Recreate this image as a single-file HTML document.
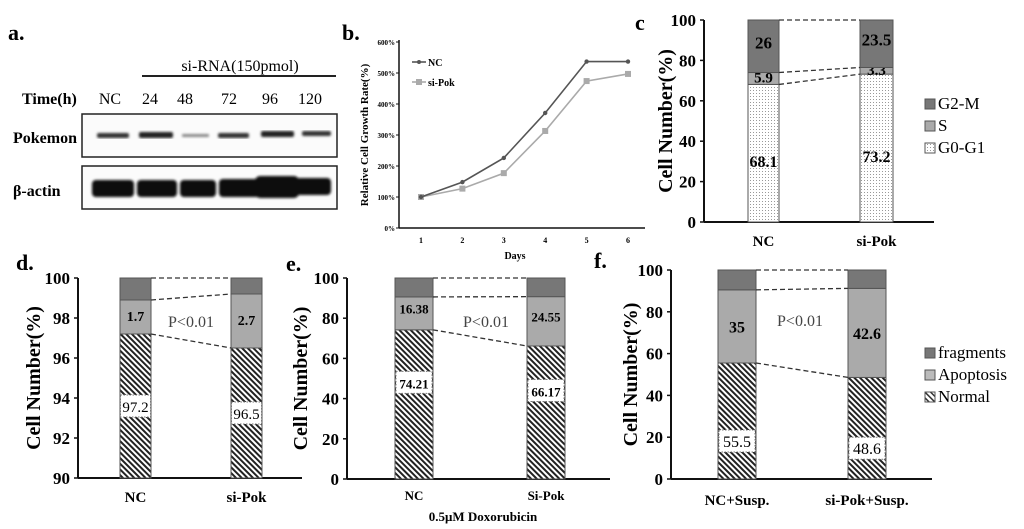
<!DOCTYPE html>
<html><head><meta charset="utf-8">
<style>
html,body{margin:0;padding:0;background:#fff;}
svg{display:block;font-family:"Liberation Serif",serif;}
.b{font-weight:bold;}
</style></head>
<body>
<svg id="fig" width="1024" height="529" viewBox="0 0 1024 529" xmlns="http://www.w3.org/2000/svg">
<defs>
<pattern id="hatch" patternUnits="userSpaceOnUse" width="4" height="4" patternTransform="rotate(-45)">
<rect width="4" height="4" fill="#fff"/><rect x="0" y="0" width="2" height="4" fill="#222"/>
</pattern>
<pattern id="hatchL" patternUnits="userSpaceOnUse" width="4" height="4" patternTransform="rotate(-45)">
<rect width="4" height="4" fill="#fff"/><rect x="0" y="0" width="1.5" height="4" fill="#333"/>
</pattern>
<pattern id="dots" patternUnits="userSpaceOnUse" width="3" height="3">
<rect width="3" height="3" fill="#fff"/><rect x="0" y="0" width="1" height="1" fill="#999"/>
</pattern>
<filter id="blur"><feGaussianBlur stdDeviation="1.2"/></filter>
</defs>

<!-- Panel a -->
<g>
<text x="8" y="40" font-size="22" class="b">a.</text>
<text x="240" y="71" font-size="16" text-anchor="middle">si-RNA(150pmol)</text>
<line x1="142" y1="76" x2="336" y2="76" stroke="#222" stroke-width="2"/>
<text x="22" y="104" font-size="16" class="b">Time(h)</text>
<g font-size="16" text-anchor="middle">
<text x="110" y="104">NC</text><text x="150" y="104">24</text><text x="185" y="104">48</text><text x="229" y="104">72</text><text x="270" y="104">96</text><text x="310" y="104">120</text>
</g>
<text x="13" y="143" font-size="16" class="b">Pokemon</text>
<text x="13" y="196" font-size="16" class="b">β-actin</text>
<rect x="82" y="114" width="255" height="43" fill="#fbfbfb" stroke="#222" stroke-width="1.5"/>
<rect x="82" y="166" width="255" height="43" fill="#fbfbfb" stroke="#222" stroke-width="1.5"/>
<g filter="url(#blur)">
<rect x="97" y="133" width="32" height="5" rx="2" fill="#333"/>
<rect x="139" y="132" width="34" height="6" rx="2" fill="#222"/>
<rect x="182" y="134" width="27" height="3" rx="1" fill="#888"/>
<rect x="218" y="133" width="31" height="5" rx="2" fill="#333"/>
<rect x="261" y="131" width="33" height="6" rx="2" fill="#222"/>
<rect x="302" y="131" width="29" height="5" rx="2" fill="#333"/>
</g>
<g filter="url(#blur)">
<rect x="92" y="180" width="42" height="17" rx="4" fill="#080808"/>
<rect x="137" y="180" width="40" height="17" rx="4" fill="#080808"/>
<rect x="180" y="180" width="36" height="17" rx="4" fill="#080808"/>
<rect x="219" y="179" width="43" height="18" rx="4" fill="#080808"/>
<rect x="255" y="176" width="44" height="22" rx="5" fill="#080808"/>
<rect x="295" y="178" width="36" height="17" rx="4" fill="#080808"/>
</g>
</g>

<!-- Panel b -->
<g id="pb">
<text x="342" y="40" font-size="22" class="b">b.</text>
<text transform="translate(368,135) rotate(-90)" font-size="11" class="b" text-anchor="middle">Relative Cell Growth Rate(%)</text>
<text x="515" y="259" font-size="10" class="b" text-anchor="middle">Days</text>
</g>

<!-- Panel c -->
<g id="pc">
<text x="635" y="30" font-size="22" class="b">c</text>
</g>
<g id="pd">
<text x="16" y="270" font-size="22" class="b">d.</text>
</g>
<g id="pe">
<text x="286" y="271" font-size="22" class="b">e.</text>
<text x="483" y="521" font-size="13" class="b" text-anchor="middle">0.5μM Doxorubicin</text>
</g>
<g id="pf">
<text x="594" y="268" font-size="22" class="b">f.</text>
</g>
</svg>
<script>
// Panel b data
const bDays = [1,2,3,4,5,6];
const bNC = [100,148,226,371,537,537];
const bSiPok = [100,127,177,313,474,497];
const bTicks = [0,100,200,300,400,500,600];
// Panel c data
const cCats = ["NC","si-Pok"];
const cG0G1 = [68.1,73.2];
const cS = [5.9,3.3];
const cG2M = [26,23.5];
const cTicks = [0,20,40,60,80,100];
// Panel d data
const dCats = ["NC","si-Pok"];
const dNormal = [97.2,96.5];
const dApop = [1.7,2.7];
const dTicks = [90,92,94,96,98,100];
// Panel e data
const eCats = ["NC","Si-Pok"];
const eNormal = [74.21,66.17];
const eApop = [16.38,24.55];
const eTicks = [0,20,40,60,80,100];
// Panel f data
const fCats = ["NC+Susp.","si-Pok+Susp."];
const fNormal = [55.5,48.6];
const fApop = [35,42.6];
const fTicks = [0,20,40,60,80,100];

const NS="http://www.w3.org/2000/svg";
function mk(parent,tag,attrs,text){const e=document.createElementNS(NS,tag);for(const k in attrs)e.setAttribute(k,attrs[k]);if(text!==undefined)e.textContent=text;parent.appendChild(e);return e;}

// ---- Panel b ----
(function(){
const g=document.getElementById('pb');
const x0=399,x1=645,yb=228;
const xd=d=>421+(d-1)*41.4;
const yv=v=>yb-v*0.31;
let ax=mk(g,'line',{x1:x0,y1:40,x2:x0,y2:yb,stroke:'#111','stroke-width':1.5});


ax=mk(g,'line',{x1:x0,y1:yb,x2:x1,y2:yb,stroke:'#111','stroke-width':1.5});


bTicks.forEach(t=>{
 const tx=mk(g,'text',{x:x0-4,y:yv(t)+3,'font-size':7,'font-weight':'bold','text-anchor':'end'},t+'%');
 
 
 mk(g,'line',{x1:x0-3,y1:yv(t),x2:x0,y2:yv(t),stroke:'#111'});
});
bDays.forEach(d=>{
 const tx=mk(g,'text',{x:xd(d),y:yb+15,'font-size':8,'font-weight':'bold','text-anchor':'middle'},d);
 
 
});
function series(vals,color,name,sq){
 const pl=mk(g,'polyline',{points:vals.map((v,i)=>xd(bDays[i])+','+yv(v)).join(' '),fill:'none',stroke:color,'stroke-width':1.6});
 
 
 vals.forEach((v,i)=>{
  const p=sq?mk(g,'rect',{x:xd(bDays[i])-3,y:yv(v)-3,width:6,height:6,fill:color}):mk(g,'circle',{cx:xd(bDays[i]),cy:yv(v),r:2.2,fill:color});
  
  
 });
}
series(bSiPok,'#aaa','si-pok',true);
series(bNC,'#555','nc',false);
mk(g,'line',{x1:412,y1:62,x2:426,y2:62,stroke:'#555','stroke-width':1.6});
mk(g,'circle',{cx:419,cy:62,r:2,fill:'#555'});
let lt=mk(g,'text',{x:428,y:66,'font-size':10,'font-weight':'bold'},'NC');


mk(g,'line',{x1:412,y1:82,x2:426,y2:82,stroke:'#aaa','stroke-width':1.6});
mk(g,'rect',{x:416,y:79,width:6,height:6,fill:'#aaa'});
lt=mk(g,'text',{x:428,y:86,'font-size':10,'font-weight':'bold'},'si-Pok');


})();

// ---- stacked bar helper ----
function stacked(gid,cfg){
 const g=document.getElementById(gid);
 const {ax,top,bot,xr,ticks,vmin,vmax,bars,cats,layers,titleX,catY,catSize,tickSize,pText,legend}=cfg;
 const yv=v=>bot-(v-vmin)/(vmax-vmin)*(bot-top);
 let a=mk(g,'line',{x1:ax,y1:top,x2:ax,y2:bot,stroke:'#111','stroke-width':2});
 
 
 a=mk(g,'line',{x1:ax,y1:bot,x2:xr,y2:bot,stroke:'#111','stroke-width':2});
 
 
 ticks.forEach(t=>{
  mk(g,'line',{x1:ax-4,y1:yv(t),x2:ax,y2:yv(t),stroke:'#111','stroke-width':1.5});
  const tx=mk(g,'text',{x:ax-8,y:yv(t)+6,'font-size':tickSize,'font-weight':'bold','text-anchor':'end'},t);
  
  
 });
 const tt=mk(g,'text',{transform:`translate(${titleX},${(top+bot)/2}) rotate(-90)`,'font-size':20,'font-weight':'bold','text-anchor':'middle'},'Cell Number(%)');
 
 
 const bounds=[];
 bars.forEach((b,i)=>{
  let cum=vmin; const bd=[];
  layers.forEach((L,j)=>{
   const v=j<layers.length-1?L.vals[i]:null;
   const lo=cum, hi=(v===null)?vmax:(j===0?v:cum+v);
   const r=mk(g,'rect',{x:b[0],y:yv(hi),width:b[1]-b[0],height:yv(lo)-yv(hi),fill:L.fill,stroke:'#555','stroke-width':1});
   
   
   if(L.label){
    const cx=(b[0]+b[1])/2, cy=(yv(lo)+yv(hi))/2+L.dy;
    if(L.box){
     mk(g,'rect',{x:cx-L.box/2,y:cy-11,width:L.box,height:22,fill:'#fff',stroke:'#777','stroke-dasharray':'1.5,1.5'});
    }
    const t=mk(g,'text',{x:cx,y:cy+6,'font-size':L.fs,'font-weight':L.bold?'bold':'normal','text-anchor':'middle'},L.vals[i]);
    
    
   }
   if(j<layers.length-1) bd.push(hi);
   cum=hi;
  });
  bd.push(vmax);
  bounds.push(bd);
  const ct=mk(g,'text',{x:(b[0]+b[1])/2,y:catY,'font-size':catSize,'font-weight':'bold','text-anchor':'middle'},cats[i]);
  
  
 });
 bounds[0].forEach((v,k)=>{
  const dl=mk(g,'line',{x1:bars[0][1],y1:yv(v),x2:bars[1][0],y2:yv(bounds[1][k]),stroke:'#333','stroke-width':1.3,'stroke-dasharray':'5,3'});
  
  
 });
 if(pText){const p=mk(g,'text',{x:pText[0],y:pText[1],'font-size':16,fill:'#444','text-anchor':'middle'},'P<0.01');
  
  }
 if(legend){
  legend.items.forEach((it,k)=>{
   const y=legend.y+k*legend.dy;
   mk(g,'rect',{x:legend.x,y:y-9,width:10,height:10,fill:it[1],stroke:'#555'});
   const t=mk(g,'text',{x:legend.x+13,y:y+1,'font-size':legend.fs},it[0]);
   
   
  });
 }
}

stacked('pc',{ax:704,top:20,bot:222,xr:934,ticks:cTicks,vmin:0,vmax:100,bars:[[748,779],[860,893]],cats:cCats,titleX:672,catY:246,catSize:15,tickSize:17,
 layers:[{name:'g0g1',vals:cG0G1,fill:'url(#dots)',label:true,fs:16,bold:true,dy:8},{name:'s',vals:cS,fill:'#aaa',label:true,fs:15,bold:true,dy:-2},{name:'g2m',vals:cG2M,fill:'#777',label:true,fs:17,bold:true,dy:-4}],
 legend:{x:925,y:108,dy:22,fs:17,items:[['G2-M','#777'],['S','#aaa'],['G0-G1','url(#dots)']]}});

stacked('pd',{ax:78,top:278,bot:478,xr:302,ticks:dTicks,vmin:90,vmax:100,bars:[[120,151],[231,262]],cats:dCats,titleX:40,catY:502,catSize:15,tickSize:17,
 layers:[{name:'normal',vals:dNormal,fill:'url(#hatch)',label:true,fs:15,bold:false,dy:0,box:30},{name:'apoptosis',vals:dApop,fill:'#aaa',label:true,fs:14,bold:true,dy:-2},{name:'fragments',vals:[0,0],fill:'#777'}],
 pText:[191,327]});

stacked('pe',{ax:347,top:278,bot:479,xr:610,ticks:eTicks,vmin:0,vmax:100,bars:[[395,433],[527,565]],cats:eCats,titleX:307,catY:500,catSize:13,tickSize:17,
 layers:[{name:'normal',vals:eNormal,fill:'url(#hatch)',label:true,fs:13,bold:true,dy:-22,box:36},{name:'apoptosis',vals:eApop,fill:'#aaa',label:true,fs:13,bold:true,dy:-6},{name:'fragments',vals:[0,0],fill:'#777'}],
 pText:[486,327]});

stacked('pf',{ax:671,top:270,bot:479,xr:932,ticks:fTicks,vmin:0,vmax:100,bars:[[718,756],[848,886]],cats:fCats,titleX:637,catY:505,catSize:15,tickSize:17,
 layers:[{name:'normal',vals:fNormal,fill:'url(#hatch)',label:true,fs:16,bold:false,dy:20,box:36},{name:'apoptosis',vals:fApop,fill:'#aaa',label:true,fs:16,bold:true,dy:0},{name:'fragments',vals:[0,0],fill:'#777'}],
 pText:[800,326],
 legend:{x:925,y:357,dy:22,fs:17,items:[['fragments','#777'],['Apoptosis','#bbb'],['Normal','url(#hatchL)']]}});
</script>
</body></html>
